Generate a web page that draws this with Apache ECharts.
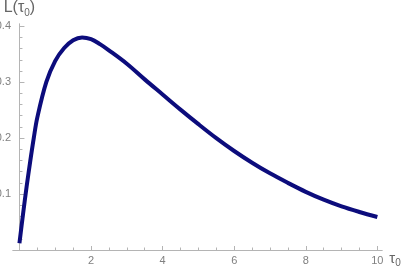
<!DOCTYPE html>
<html>
<head>
<meta charset="utf-8">
<script src="https://cdn.jsdelivr.net/npm/echarts@6/dist/echarts.min.js"></script>
<style>
html, body { margin: 0; padding: 0; background: #fff; }
#main { width: 409px; height: 270px; }
</style>
</head>
<body>
<div id="main"></div>
<script>
var myChart = echarts.init(document.getElementById('main'), null, {renderer: 'canvas'});

// values
var tau = [0, 0.1, 0.2, 0.3, 0.4, 0.5, 0.75, 1, 1.25, 1.5, 1.75, 2, 2.25, 2.5, 3, 3.5, 4, 4.5, 5, 5.5, 6, 6.5, 7, 7.5, 8, 8.5, 9, 9.5, 10];
var L = [0.012, 0.064, 0.113, 0.158, 0.2, 0.237, 0.3, 0.338, 0.361, 0.375, 0.380, 0.377, 0.368, 0.357, 0.333, 0.305, 0.278, 0.251, 0.225, 0.2, 0.177, 0.156, 0.137, 0.12, 0.104, 0.09, 0.078, 0.068, 0.059];

// tick labels
var xMajor = [2, 4, 6, 8, 10];
var xMinor = [0.5, 1, 1.5, 2.5, 3, 3.5, 4.5, 5, 5.5, 6.5, 7, 7.5, 8.5, 9, 9.5];
var yMajor = [0.1, 0.2, 0.3, 0.4];
var yMinor = [0.02, 0.04, 0.06, 0.08, 0.12, 0.14, 0.16, 0.18, 0.22, 0.24, 0.26, 0.28, 0.32, 0.34, 0.36, 0.38];

var points = tau.map(function (t, i) { return [t, L[i]]; });

var axisGray = '#b4b4b4';
var labelStyle = { color: '#808080', fontSize: 11, fontFamily: 'Liberation Sans' };

function xAxisCfg(major) {
    return {
        type: 'value',
        min: -0.18,
        max: 10.13,
        position: 'bottom',
        axisLine: { show: true, onZero: true, onZeroAxisIndex: 0, lineStyle: { color: axisGray, width: 1 } },
        axisTick: { show: true, inside: true, length: major ? 4 : 2.5, customValues: major ? xMajor : xMinor, lineStyle: { color: axisGray } },
        axisLabel: major ? Object.assign({ customValues: xMajor, margin: 5 }, labelStyle) : { show: false },
        splitLine: { show: false },
        name: major ? '{t|τ}{s|0}' : '',
        nameLocation: 'end',
        nameGap: 4,
        nameTextStyle: {
            verticalAlign: 'top',
            rich: {
                t: { fontSize: 15, color: '#666', fontFamily: 'Liberation Sans', lineHeight: 18 },
                s: { fontSize: 10, color: '#666', fontFamily: 'Liberation Sans', verticalAlign: 'bottom', lineHeight: 10 }
            }
        }
    };
}

function yAxisCfg(major) {
    return {
        type: 'value',
        min: 0,
        max: 0.404,
        position: 'left',
        axisLine: { show: true, onZero: true, onZeroAxisIndex: 0, lineStyle: { color: axisGray, width: 1 } },
        axisTick: { show: true, inside: true, length: major ? 5 : 3, customValues: major ? yMajor : yMinor, lineStyle: { color: axisGray } },
        axisLabel: major ? Object.assign({
            customValues: yMajor, margin: 2,
            formatter: function (v) { return v.toFixed(1); }
        }, labelStyle) : { show: false },
        splitLine: { show: false },
        name: major ? '{t|L(τ}{s|0}{t|)}' : '',
        nameLocation: 'end',
        nameGap: 6,
        nameTextStyle: {
            rich: {
                t: { fontSize: 16, color: '#666', fontFamily: 'Liberation Sans', lineHeight: 20 },
                s: { fontSize: 10, color: '#666', fontFamily: 'Liberation Sans', verticalAlign: 'bottom', lineHeight: 12 }
            }
        }
    };
}

var option = {
    backgroundColor: '#fff',
    animation: false,
    grid: { left: 13, right: 27, top: 24, bottom: 20, containLabel: false, outerBoundsMode: 'none' },
    xAxis: [xAxisCfg(true), xAxisCfg(false)],
    yAxis: [yAxisCfg(true), yAxisCfg(false)],
    series: [{
        type: 'line',
        xAxisIndex: 0,
        yAxisIndex: 0,
        data: points,
        smooth: 0.35,
        showSymbol: false,
        lineStyle: { color: '#0c0c7c', width: 4, cap: 'butt' },
        itemStyle: { color: '#0c0c7c' }
    }]
};

myChart.setOption(option);
</script>
</body>
</html>
